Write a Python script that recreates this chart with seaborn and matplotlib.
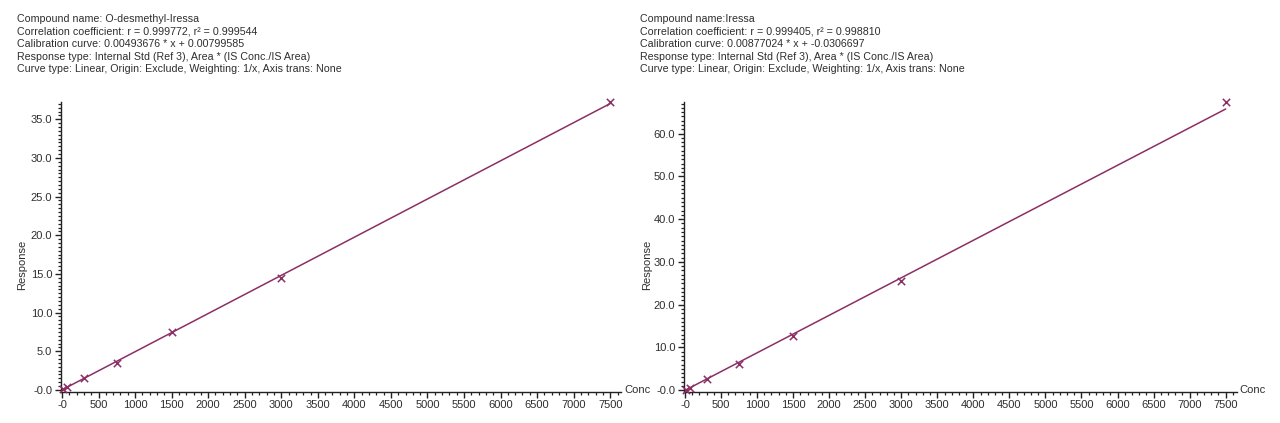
import matplotlib
matplotlib.use("Agg")
import matplotlib.pyplot as plt
import matplotlib.ticker as mticker
import seaborn as sns
import numpy as np
import pandas as pd

# ---- data ----
conc = [15, 75, 300, 750, 1500, 3000, 7500]
resp_odm = [0.08, 0.38, 1.52, 3.46, 7.45, 14.45, 37.25]
resp_iressa = [0.10, 0.60, 2.60, 6.20, 12.70, 25.50, 67.5]
slope_odm, icpt_odm = 0.00493676, 0.00799585
slope_iressa, icpt_iressa = 0.00877024, -0.0306697
header_odm = ["Compound name: O-desmethyl-Iressa",
              "Correlation coefficient: r = 0.999772, r² = 0.999544",
              "Calibration curve: 0.00493676 * x + 0.00799585",
              "Response type: Internal Std (Ref 3), Area * (IS Conc./IS Area)",
              "Curve type: Linear, Origin: Exclude, Weighting: 1/x, Axis trans: None"]
header_iressa = ["Compound name:Iressa",
                 "Correlation coefficient: r = 0.999405, r² = 0.998810",
                 "Calibration curve: 0.00877024 * x + -0.0306697",
                 "Response type: Internal Std (Ref 3), Area * (IS Conc./IS Area)",
                 "Curve type: Linear, Origin: Exclude, Weighting: 1/x, Axis trans: None"]
x_ticks = list(range(0, 7501, 500))

sns.set_style("white")
plt.rcParams['font.family'] = ['Liberation Sans', 'DejaVu Sans']

W, H = 1280, 423
fig = plt.figure(figsize=(W / 100, H / 100), dpi=100)

color = '#8c2f64'
txtc = '#2e2e2e'

panels = [
    dict(left=60.5, ppx=0.0731, resp=resp_odm, slope=slope_odm, icpt=icpt_odm,
         ylim=(-0.2, 37.3), ymaj=5, ymin=0.5, header=header_odm, hx=17, ylab_x=22),
    dict(left=683.5, ppx=0.0721, resp=resp_iressa, slope=slope_iressa, icpt=icpt_iressa,
         ylim=(-0.3, 67.5), ymaj=10, ymin=1, header=header_iressa, hx=640, ylab_x=647),
]

xlim = (-20, 7650)
for p in panels:
    width_px = (xlim[1] - xlim[0]) * p['ppx']
    bottom_px = 391.5
    height_px = 290
    ax = fig.add_axes([p['left'] / W, (H - bottom_px) / H, width_px / W, height_px / H])
    df_pts = pd.DataFrame({"Conc": conc, "Response": p['resp']})
    xs = [0, 7500]
    df_line = pd.DataFrame({"Conc": xs, "Response": [p['slope'] * v + p['icpt'] for v in xs]})
    sns.lineplot(data=df_line, x="Conc", y="Response", ax=ax, color=color, lw=1.1)
    sns.scatterplot(data=df_pts, x="Conc", y="Response", ax=ax, marker='x', color=color,
                    s=28, linewidth=1.1, clip_on=False, zorder=5)
    ax.set_xlim(*xlim)
    ax.set_ylim(*p['ylim'])
    for s in ['top', 'right']:
        ax.spines[s].set_visible(False)
    for s in ['left', 'bottom']:
        ax.spines[s].set_color('#222222')
        ax.spines[s].set_linewidth(1.0)
    ax.set_xticks(x_ticks)
    ax.xaxis.set_major_formatter(mticker.FuncFormatter(lambda v, pos: "-0" if v == 0 else f"{int(v)}"))
    ax.xaxis.set_minor_locator(mticker.MultipleLocator(100))
    ax.yaxis.set_major_locator(mticker.MultipleLocator(p['ymaj']))
    ax.yaxis.set_minor_locator(mticker.MultipleLocator(p['ymin']))
    ax.yaxis.set_major_formatter(mticker.FuncFormatter(lambda v, pos: "-0.0" if abs(v) < 1e-9 else f"{v:.1f}"))
    ax.tick_params(axis='both', which='major', direction='out', length=4, width=1,
                   labelsize=8, labelcolor=txtc, color='#222222', pad=2,
                   bottom=True, left=True)
    ax.tick_params(axis='both', which='minor', direction='out', length=2.5, width=0.9,
                   color='#222222', bottom=True, left=True)
    ax.set_xlabel("")
    ax.set_ylabel("")
    ax.text(1.005, 0.005, "Conc", transform=ax.transAxes, ha='left', va='center',
            fontsize=8, color=txtc)
    fig.text(p['ylab_x'] / W, 1 - 265 / H, "Response", rotation=90, ha='center', va='center',
             fontsize=8, color=txtc)
    for i, line in enumerate(p['header']):
        fig.text(p['hx'] / W, 1 - (19 + i * 12.6) / H, line, ha='left', va='center',
                 fontsize=7.7, color=txtc)

fig.savefig("out.png", dpi=100)
